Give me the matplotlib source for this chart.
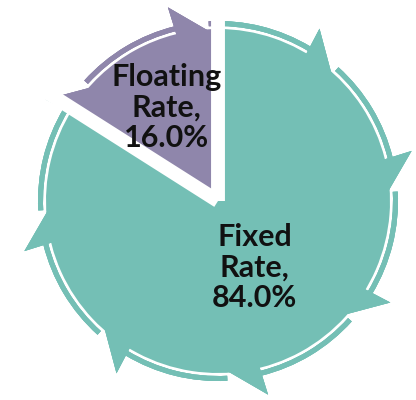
import numpy as np
import matplotlib.pyplot as plt
from matplotlib.patches import Wedge, Polygon

# data
labels = ['Fixed\nRate,', 'Floating\nRate,']
shares = [84.0, 16.0]
colors = ['#74BFB5', '#8F86AB']

# layout (pixels)
W, H = 416, 400
cx, cy = 218, 201          # pie centre, from top-left
R = 172                    # radius of the filled slices
ring_gap, ring_w = 3, 5    # thin outer ring
tooth_len, tooth_span = 28, 11
n_teeth, tooth_start = 8, 104
label_r = [0.44, 0.62]

plt.rcParams['font.family'] = ['Lato', 'DejaVu Sans']

fig = plt.figure(figsize=(W / 100, H / 100), dpi=100)
ax = fig.add_axes([0, 0, 1, 1])
ax.set_xlim(-cx, W - cx)
ax.set_ylim(-(H - cy), cy)
ax.set_aspect('equal')
ax.axis('off')


def pol(r, deg):
    a = np.radians(deg)
    return (r * np.cos(a), r * np.sin(a))


teeth = [(tooth_start - k * 360 / n_teeth) % 360 for k in range(n_teeth)]
total = sum(shares)
start = 90
bounds = []
for lab, val, col, lr in zip(labels, shares, colors, label_r):
    sweep = 360 * val / total
    t1, t2 = start - sweep, start
    clip = Wedge((0, 0), R * 1.5, t1, t2, transform=ax.transData)

    ax.add_patch(Wedge((0, 0), R, t1, t2, facecolor=col, edgecolor='none'))

    # ring pieces between the teeth, and the teeth themselves
    for th in teeth:
        for off in (0, -360, 360):
            t = th + off
            ring = Wedge((0, 0), R + ring_gap + ring_w, t, t + 360 / n_teeth - tooth_span,
                         width=ring_w, facecolor=col, edgecolor='none')
            ax.add_patch(ring)
            ring.set_clip_path(clip)
            tooth = Polygon([pol(R - 2, t - tooth_span), pol(R - 2, t),
                             pol(R + tooth_len, t + 0.5)],
                            closed=True, facecolor=col, edgecolor='none')
            ax.add_patch(tooth)
            tooth.set_clip_path(clip)

    mid = (t1 + t2) / 2
    x, y = pol(R * lr, mid)
    ax.text(x, y, f'{lab}\n{val:.1f}%', ha='center', va='center',
            fontsize=22, fontweight='bold', color='#111111', linespacing=1.12)
    bounds.append(t2)
    start = t1

# white gaps between the slices
for b in bounds:
    x, y = pol(R * 1.5, b)
    ax.plot([0, x], [0, y], color='white', lw=10, solid_capstyle='butt')

fig.savefig('out.png', dpi=100)
